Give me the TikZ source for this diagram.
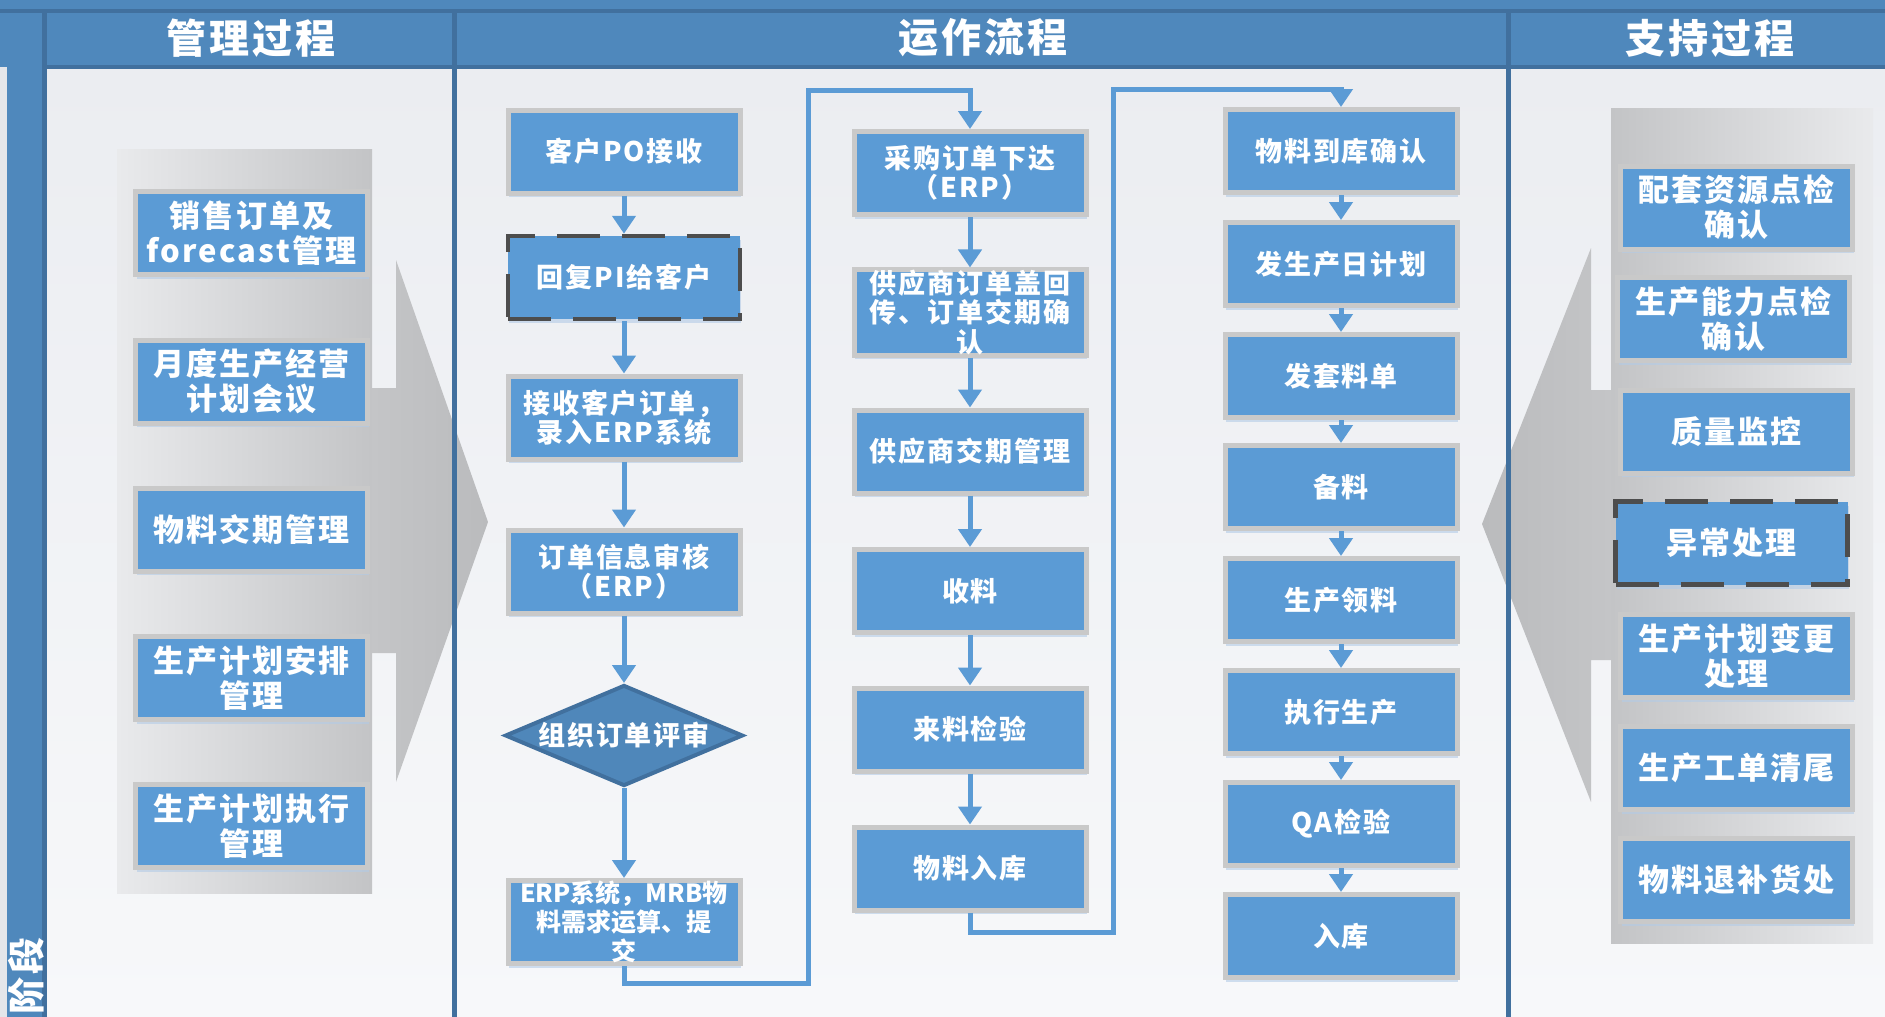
\documentclass[tikz,border=0pt]{standalone}
\usepackage{fontspec}
\setmainfont{Noto Sans CJK SC}
\newfontfamily\bxf{Noto Sans CJK SC}[LetterSpace=7]
\usetikzlibrary{arrows.meta,shapes.geometric,shadows}
\definecolor{hdr}{HTML}{4F88BC}
\definecolor{hdrline}{HTML}{41709E}
\definecolor{boxblue}{HTML}{5B9BD5}
\definecolor{boxgray}{HTML}{C9C9C9}
\definecolor{dashc}{HTML}{4D4D4D}
\definecolor{diafill}{HTML}{4F87BA}
\definecolor{shadowc}{HTML}{B3CBE6}
\definecolor{bgtop}{HTML}{EBEDF1}
\definecolor{bgbot}{HTML}{F7F8FA}
\definecolor{margin}{HTML}{E4E6EA}
\definecolor{panlight}{HTML}{E9EAEC}
\definecolor{pandark}{HTML}{C3C4C6}
\definecolor{arrA}{HTML}{C4C5C7}
\definecolor{arrB}{HTML}{BABBBD}
\begin{document}
\begin{tikzpicture}[x=1pt,y=-1pt,
  pbox/.style={rectangle, fill=boxblue, draw=boxgray, line width=5pt,
    minimum width=232pt, minimum height=83pt, inner sep=0pt, align=center,
    text=white, font=\bxf\bfseries\fontsize{31}{35}\selectfont,
    drop shadow={shadow xshift=1pt, shadow yshift=-4pt, fill=shadowc, opacity=0.6}},
  mbox/.style={pbox, font=\bxf\bfseries\fontsize{27}{29.5}\selectfont},
  dashbox/.style={draw=dashc, line width=4.5pt, dash pattern=on 43pt off 22pt},
  conn/.style={draw=boxblue, line width=5pt},
  arr/.style={conn, -{Triangle[width=23pt,length=18pt]}},
  hdrtext/.style={text=white, font=\bxf\bfseries\fontsize{40}{44}\selectfont, inner sep=0pt}
]
\useasboundingbox (0,0) rectangle (1885,1017);
\clip (0,0) rectangle (1885,1017);

% background
\fill[margin] (0,0) rectangle (1885,1017);
\shade[top color=bgtop, bottom color=bgbot] (7,67) rectangle (1885,1017);

% panels and chevrons
\shade[left color=panlight, right color=pandark] (117,149) rectangle (372,893);
\shade[left color=arrA, right color=arrB] (372,388) -- (396,388) -- (396,260) -- (488,522) -- (396,782) -- (396,653) -- (372,653) -- cycle;
\shade[left color=pandark, right color=panlight] (1611,108) rectangle (1873,943);
\shade[left color=arrB, right color=arrA] (1611,390) -- (1591,390) -- (1591,248) -- (1482,524) -- (1591,802) -- (1591,660) -- (1611,660) -- cycle;

% header and grid
\fill[hdr] (0,0) rectangle (1885,67);
\fill[hdr] (7,67) rectangle (44,1017);
\draw[hdrline, line width=4pt] (0,11) -- (1885,11);
\draw[hdrline, line width=4pt] (44,67) -- (1885,67);
\draw[hdrline, line width=5pt] (44.5,11) -- (44.5,1017);
\draw[hdrline, line width=5pt] (454.5,11) -- (454.5,1017);
\draw[hdrline, line width=5pt] (1508,11) -- (1508,1017);
\node[hdrtext] (h1) at (251,38) {管理过程};
\node[hdrtext] (h2) at (983,38) {运作流程};
\node[hdrtext] (h3) at (1710,38) {支持过程};
\node[text=white, font=\bxf\bfseries\fontsize{37}{37}\selectfont, rotate=90, inner sep=0pt] (stage) at (26,976) {阶段};

% left boxes
\node[pbox] (l1) at (251.5,233) {销售订单及\\forecast管理};
\node[pbox] (l2) at (251.5,381.5) {月度生产经营\\计划会议};
\node[pbox] (l3) at (251.5,529.5) {物料交期管理};
\node[pbox] (l4) at (251.5,678) {生产计划安排\\管理};
\node[pbox] (l5) at (251.5,826) {生产计划执行\\管理};

% right boxes
\node[pbox] (r1) at (1736.5,207.5) {配套资源点检\\确认};
\node[pbox] (r2) at (1733.5,319) {生产能力点检\\确认};
\node[pbox] (r3) at (1736.5,431.5) {质量监控};
\node[pbox, dashbox] (r4) at (1731.5,543) {异常处理};
\node[pbox] (r5) at (1736.5,656) {生产计划变更\\处理};
\node[pbox] (r6) at (1736.5,768) {生产工单清尾};
\node[pbox] (r7) at (1736.5,880) {物料退补货处};

% column 1
\node[mbox] (a1) at (624,151.5) {客户PO接收};
\node[mbox, dashbox] (a2) at (624,277.5) {回复PI给客户};
\node[mbox] (a3) at (624,417.5) {接收客户订单，\\录入ERP系统};
\node[mbox] (a4) at (624,571.5) {订单信息审核\\（ERP）};
\node[diamond, fill=diafill, draw=hdrline, line width=4pt, minimum width=238pt,
  minimum height=101pt, inner sep=0pt,
  label={[text=white, font=\bxf\bfseries\fontsize{27}{29.5}\selectfont]center:组织订单评审}] (a5) at (624,735.5) {};
\node[mbox, font=\bfseries\fontsize{25}{29}\selectfont] (a6) at (624,922) {ERP系统，MRB物\\料需求运算、提\\交};

% column 2
\node[mbox] (b1) at (970,173) {采购订单下达\\（ERP）};
\node[mbox] (b2) at (970,312.5) {供应商订单盖回\\传、订单交期确\\认};
\node[mbox] (b3) at (970,451.5) {供应商交期管理};
\node[mbox] (b4) at (970,591) {收料};
\node[mbox] (b5) at (970,729.5) {来料检验};
\node[mbox] (b6) at (970,868.5) {物料入库};

% column 3
\node[mbox] (c1) at (1341,151) {物料到库确认};
\node[mbox] (c2) at (1341,264) {发生产日计划};
\node[mbox] (c3) at (1341,376) {发套料单};
\node[mbox] (c4) at (1341,487) {备料};
\node[mbox] (c5) at (1341,600) {生产领料};
\node[mbox] (c6) at (1341,712) {执行生产};
\node[mbox] (c7) at (1341,824) {QA检验};
\node[mbox] (c8) at (1341,936) {入库};

% loop corner points
\coordinate (p1) at (808,983);
\coordinate (p2) at (808,90);
\coordinate (q1) at (1113,932);
\coordinate (q2) at (1113,89);

% connectors
\draw[arr] (a1) -- (a2);
\draw[arr] (a2) -- (a3);
\draw[arr] (a3) -- (a4);
\draw[arr] (a4) -- (a5);
\draw[arr] (a5) -- (a6);
\draw[arr] (a6.south) |- (p1) -- (p2) -| (b1.north);
\draw[arr] (b1) -- (b2);
\draw[arr] (b2) -- (b3);
\draw[arr] (b3) -- (b4);
\draw[arr] (b4) -- (b5);
\draw[arr] (b5) -- (b6);
\draw[arr] (b6.south) |- (q1) -- (q2) -| (c1.north);
\draw[arr] (c1) -- (c2);
\draw[arr] (c2) -- (c3);
\draw[arr] (c3) -- (c4);
\draw[arr] (c4) -- (c5);
\draw[arr] (c5) -- (c6);
\draw[arr] (c6) -- (c7);
\draw[arr] (c7) -- (c8);
\end{tikzpicture}
\end{document}
